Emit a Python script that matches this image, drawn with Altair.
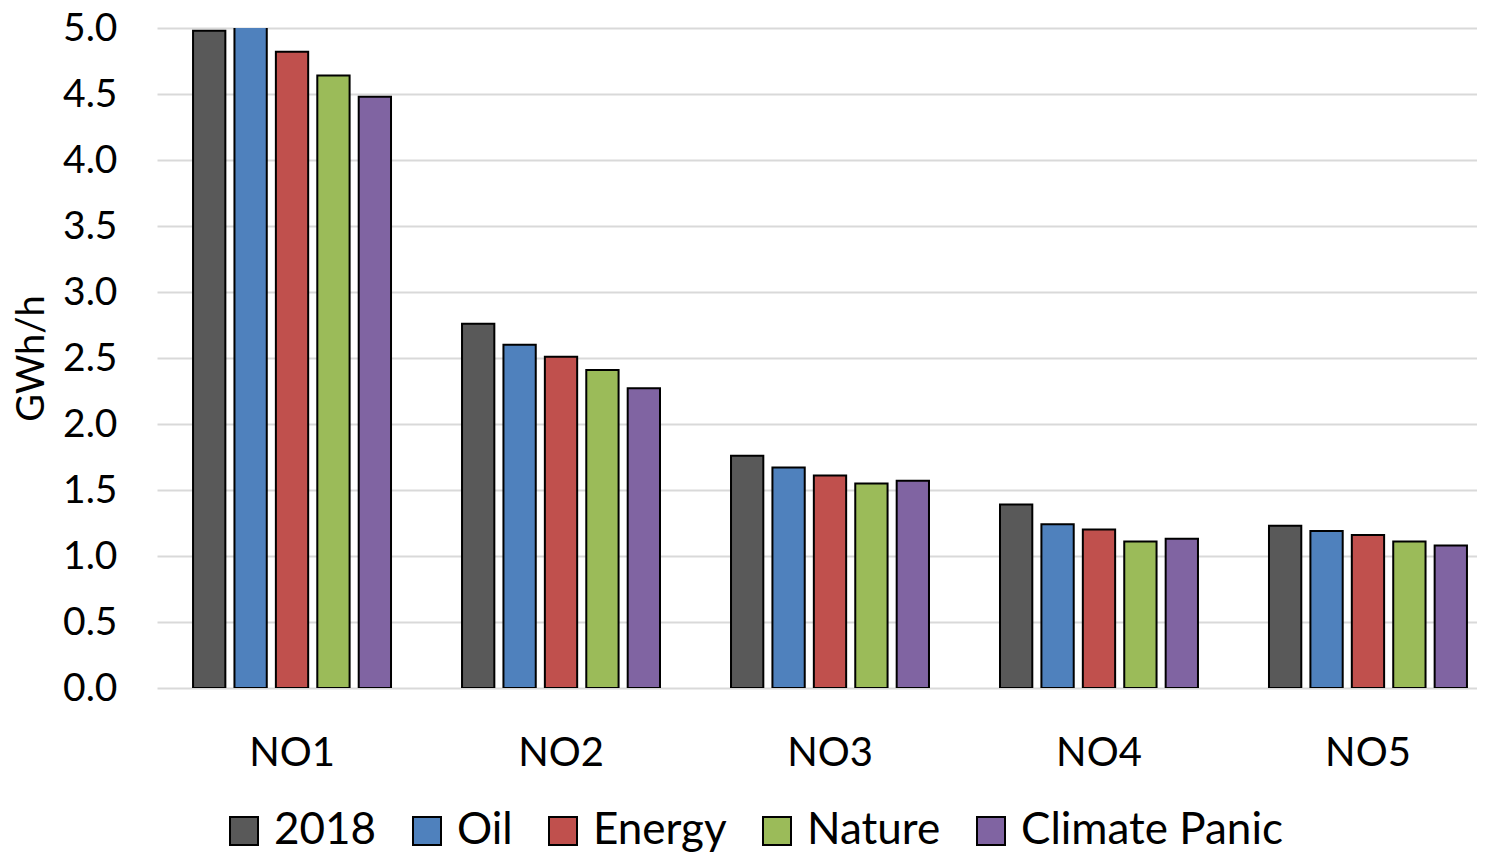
import altair as alt
import pandas as pd

regions = ["NO1", "NO2", "NO3", "NO4", "NO5"]
series = ["2018", "Oil", "Energy", "Nature", "Climate Panic"]
colors = ["#595959", "#4f81bd", "#c0504d", "#9bbb59", "#8064a2"]

v2018 = [4.98, 2.76, 1.76, 1.39, 1.23]
vOil = [5.05, 2.60, 1.67, 1.24, 1.19]
vEnergy = [4.82, 2.51, 1.61, 1.20, 1.16]
vNature = [4.64, 2.41, 1.55, 1.11, 1.11]
vClimate = [4.48, 2.27, 1.57, 1.13, 1.08]

rows = []
for s, vals in zip(series, [v2018, vOil, vEnergy, vNature, vClimate]):
    for r, v in zip(regions, vals):
        rows.append({"region": r, "series": s, "value": v})
df = pd.DataFrame(rows)

FONT = "Lato"

chart = alt.Chart(df).mark_bar(stroke="black", strokeWidth=2, clip=True).encode(
    x=alt.X("region:N", sort=regions,
            scale=alt.Scale(paddingInner=0.264, paddingOuter=0.134, range=[0, 1346]),
            axis=alt.Axis(title=None, labelAngle=0, labelFontSize=40, labelPadding=45,
                          ticks=False, domain=False, labelColor="black", labelFont=FONT)),
    xOffset=alt.XOffset("series:N", sort=series,
                        scale=alt.Scale(paddingInner=0.22, paddingOuter=0)),
    y=alt.Y("value:Q", scale=alt.Scale(domain=[0, 5], nice=False),
            axis=alt.Axis(title="GWh/h", values=[0, 0.5, 1, 1.5, 2, 2.5, 3, 3.5, 4, 4.5, 5],
                          format=".1f", labelFontSize=39, labelPadding=40, ticks=False,
                          domain=False, grid=True, gridColor="#d9d9d9", gridWidth=2,
                          titleFontSize=38, titleFontWeight="normal", titlePadding=11,
                          labelColor="black", titleColor="black",
                          labelFont=FONT, titleFont=FONT)),
    color=alt.Color("series:N", sort=series,
                    scale=alt.Scale(domain=series, range=colors),
                    legend=alt.Legend(title=None, orient="none", direction="horizontal",
                                      legendX=65, legendY=781,
                                      symbolType="square", symbolSize=784,
                                      symbolStrokeColor="black", symbolStrokeWidth=2,
                                      labelFontSize=44, labelFont=FONT, labelColor="black",
                                      labelLimit=0,
                                      labelOffset=8, columnPadding=28, symbolOpacity=1)),
).properties(
    width=1320, height=660,
    autosize=alt.AutoSizeParams(type="none"),
    padding={"left": 149, "top": 20, "right": 0, "bottom": 165},
).configure_view(stroke=None)

chart.save("out.html", embed_options={"renderer": "svg", "actions": False})
